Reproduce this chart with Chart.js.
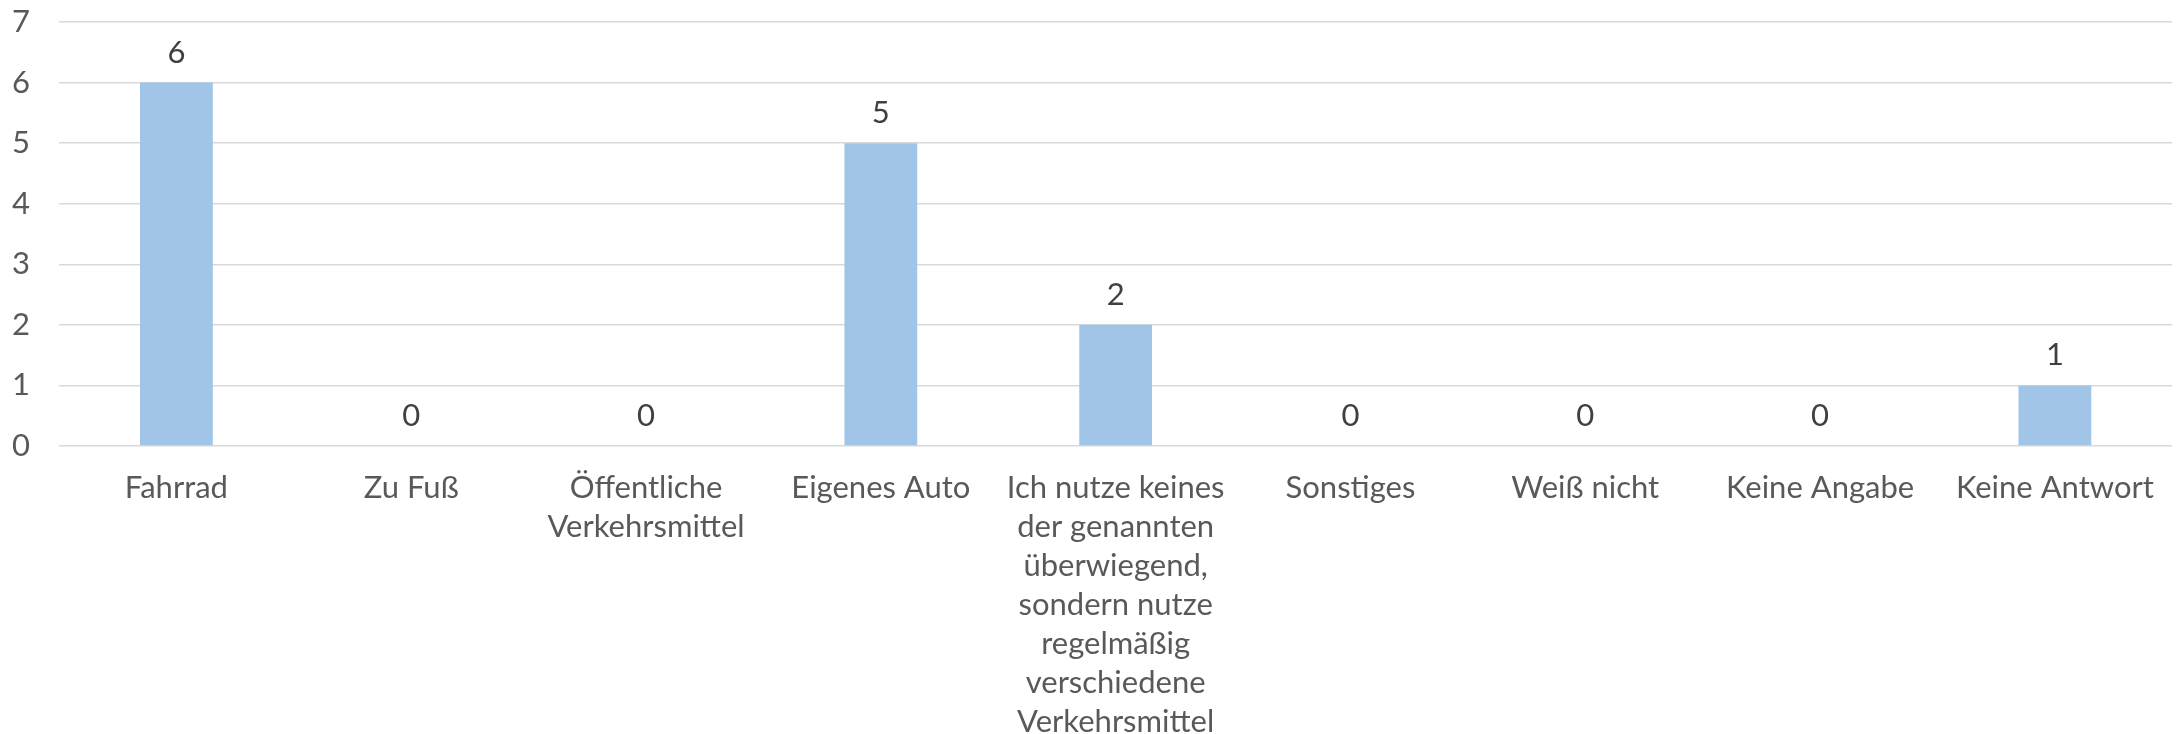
<!DOCTYPE html>
<html>
<head>
<meta charset="utf-8">
<script src="https://cdn.jsdelivr.net/npm/chart.js@4/dist/chart.umd.min.js"></script>
<style>
  html, body { margin: 0; padding: 0; background: #ffffff; }
  #wrap { width: 2176px; height: 734px; }
</style>
</head>
<body>
<div id="wrap"><canvas id="chart"></canvas></div>
<script>
// categories (multi-line labels as arrays)
const categories = [
    "Fahrrad",
    "Zu Fuß",
    ["Öffentliche", "Verkehrsmittel"],
    "Eigenes Auto",
    ["Ich nutze keines", "der genannten", "überwiegend,", "sondern nutze", "regelmäßig", "verschiedene", "Verkehrsmittel"],
    "Sonstiges",
    "Weiß nicht",
    "Keine Angabe",
    "Keine Antwort"
];
const counts = [6, 0, 0, 5, 2, 0, 0, 0, 1];
const yTicks = [0, 1, 2, 3, 4, 5, 6, 7];

const FONT = "Lato, 'Open Sans', sans-serif";

// simple value labels above each bar
const valueLabels = {
    id: "valueLabels",
    afterDatasetsDraw(chart) {
        const ctx = chart.ctx;
        const meta = chart.getDatasetMeta(0);
        ctx.save();
        ctx.font = "31px " + FONT;
        ctx.fillStyle = "#404040";
        ctx.textAlign = "center";
        ctx.textBaseline = "middle";
        meta.data.forEach((bar, i) => {
            ctx.fillText(String(counts[i]), bar.x, bar.y - 30);
        });
        ctx.restore();
    }
};

new Chart(document.getElementById("chart"), {
    type: "bar",
    data: {
        labels: categories,
        datasets: [{
            data: counts,
            backgroundColor: "#a0c5e8",
            borderWidth: 0,
            categoryPercentage: 1.0,
            barPercentage: 0.31
        }]
    },
    options: {
        responsive: true,
        maintainAspectRatio: false,
        animation: false,
        layout: { padding: { top: 22, right: 2, left: 0, bottom: 0 } },
        plugins: {
            legend: { display: false },
            tooltip: { enabled: false }
        },
        scales: {
            x: {
                grid: { display: false, drawTicks: false },
                border: { display: false },
                ticks: {
                    color: "#595959",
                    font: { family: FONT, size: 31, lineHeight: 1.26 },
                    padding: 22,
                    maxRotation: 0,
                    autoSkip: false
                },
                afterFit(scale) { scale.height = 288; }
            },
            y: {
                min: 0,
                max: 7,
                afterBuildTicks(scale) {
                    scale.ticks = yTicks.map(v => ({ value: v }));
                },
                grid: { color: "#d9d9d9", lineWidth: 1.5, drawTicks: false },
                border: { display: false },
                ticks: {
                    color: "#595959",
                    font: { family: FONT, size: 31 },
                    padding: 29
                },
                afterFit(scale) {
                    scale.width = 59;
                    // no extra room above/below for the end labels
                    scale.paddingTop = 0;
                    scale.paddingBottom = 0;
                }
            }
        }
    },
    plugins: [valueLabels]
});
</script>
</body>
</html>
